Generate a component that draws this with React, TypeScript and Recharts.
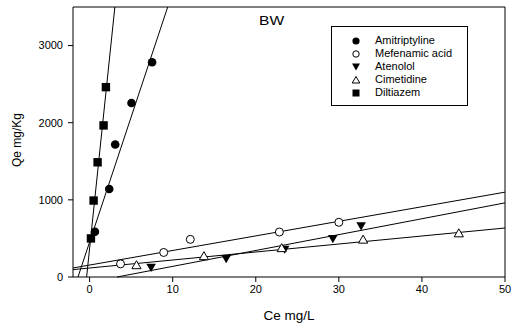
import {
  ScatterChart,
  Scatter,
  XAxis,
  YAxis,
  ReferenceLine,
  Legend,
} from "recharts";

const FONT = "'Liberation Sans', Arial, sans-serif";

// measured points, Ce (mg/L) vs Qe (mg/Kg)
const amitriptylineCe = [0.64, 2.36, 3.08, 5.04, 7.52];
const amitriptylineQe = [587, 1140, 1717, 2256, 2783];
const mefenamicCe = [3.72, 8.92, 12.12, 22.84, 30.0];
const mefenamicQe = [170, 318, 488, 583, 709];
const atenololCe = [7.4, 16.44, 23.48, 29.28, 32.68];
const atenololQe = [122, 235, 357, 496, 661];
const cimetidineCe = [5.64, 13.76, 23.12, 32.92, 44.44];
const cimetidineQe = [157, 274, 378, 488, 570];
const diltiazemCe = [0.16, 0.48, 0.96, 1.68, 1.96];
const diltiazemQe = [500, 991, 1487, 1965, 2461];

// fitted lines: [Ce start, Qe start, Ce end, Qe end]
const amitriptylineFit = [-1.4, 0, 9.4, 3500];
const mefenamicFit = [-2, 117, 50, 1100];
const atenololFit = [3.3, 0, 50, 961];
const cimetidineFit = [-2, 96, 50, 635];
const diltiazemFit = [-0.36, 0, 3.04, 3500];

const xTicks = [0, 10, 20, 30, 40, 50];
const yTicks = [0, 1000, 2000, 3000];
const seriesNames = [
  "Amitriptyline",
  "Mefenamic acid",
  "Atenolol",
  "Cimetidine",
  "Diltiazem",
];

const toPoints = (xs: number[], ys: number[]) =>
  xs.map((x, i) => ({ x, y: ys[i] }));

const FilledCircle = (p: any) => (
  <circle cx={p.cx} cy={p.cy} r={4.3} fill="#000" />
);
const OpenCircle = (p: any) => (
  <circle cx={p.cx} cy={p.cy} r={4} fill="#fff" stroke="#000" strokeWidth={1} />
);
const DownTriangle = (p: any) => (
  <polygon
    points={`${p.cx - 4.8},${p.cy - 3.8} ${p.cx + 4.8},${p.cy - 3.8} ${p.cx},${p.cy + 4.4}`}
    fill="#000"
  />
);
const UpTriangle = (p: any) => (
  <polygon
    points={`${p.cx - 4.6},${p.cy + 3.8} ${p.cx + 4.6},${p.cy + 3.8} ${p.cx},${p.cy - 4.2}`}
    fill="#fff"
    stroke="#000"
    strokeWidth={1}
  />
);
const Square = (p: any) => (
  <rect x={p.cx - 4.2} y={p.cy - 4.2} width={8.4} height={8.4} fill="#000" />
);

const legendMarks = [
  <circle cx={5} cy={5} r={3.6} fill="#000" />,
  <circle cx={5} cy={5} r={3.2} fill="#fff" stroke="#000" />,
  <polygon points="1,1.5 9,1.5 5,8.5" fill="#000" />,
  <polygon points="1.2,8 8.8,8 5,1.5" fill="#fff" stroke="#000" />,
  <rect x={1.5} y={1.5} width={7} height={7} fill="#000" />,
];

const LegendBox = () => (
  <div
    style={{
      border: "1px solid #000",
      background: "#fff",
      boxSizing: "border-box",
      width: 137,
      height: 80,
      padding: "7px 0 0 19px",
      fontFamily: FONT,
      fontSize: 11,
      lineHeight: "13px",
      color: "#000",
    }}
  >
    {seriesNames.map((name, i) => (
      <div key={name} style={{ display: "flex", alignItems: "center" }}>
        <svg width={10} height={10} style={{ marginRight: 14 }}>
          {legendMarks[i]}
        </svg>
        {name}
      </div>
    ))}
  </div>
);

export default function App() {
  const fits = [
    amitriptylineFit,
    mefenamicFit,
    atenololFit,
    cimetidineFit,
    diltiazemFit,
  ];

  return (
    <div
      style={{
        position: "absolute",
        left: 0,
        top: 0,
        width: 514,
        height: 331,
        background: "#fff",
      }}
    >
      <ScatterChart
        width={514}
        height={331}
        margin={{ top: 7, right: 9, left: 0, bottom: 0 }}
      >
        <XAxis
          dataKey="x"
          type="number"
          domain={[-2, 50]}
          ticks={xTicks}
          height={54}
          tickSize={5}
          tickMargin={3}
          stroke="#000"
          tick={{ fill: "#000", fontSize: 11, fontFamily: FONT }}
          label={{
            value: "Ce mg/L",
            position: "insideBottom",
            offset: 11,
            style: { fill: "#000", fontSize: 13.5, fontFamily: FONT },
          }}
        />
        <YAxis
          dataKey="y"
          type="number"
          domain={[0, 3500]}
          ticks={yTicks}
          width={73}
          tickSize={5}
          tickMargin={5}
          stroke="#000"
          tick={{ fill: "#000", fontSize: 11, fontFamily: FONT }}
          label={{
            value: "Qe mg/Kg",
            angle: -90,
            position: "center",
            dx: -19.5,
            dy: -2,
            style: { fill: "#000", fontSize: 12, fontFamily: FONT },
          }}
        />
        <ReferenceLine y={3500} stroke="#000" />
        <ReferenceLine x={50} stroke="#000" />
        {fits.map((f, i) => (
          <ReferenceLine
            key={i}
            segment={[
              { x: f[0], y: f[1] },
              { x: f[2], y: f[3] },
            ]}
            stroke="#000"
            strokeWidth={1}
          />
        ))}
        <Legend
          layout="vertical"
          align="center"
          verticalAlign="middle"
          wrapperStyle={{ left: 331, top: 26, width: 137, height: 80 }}
          content={() => <LegendBox />}
        />
        <Scatter
          name="Amitriptyline"
          data={toPoints(amitriptylineCe, amitriptylineQe)}
          shape={FilledCircle}
          isAnimationActive={false}
        />
        <Scatter
          name="Mefenamic acid"
          data={toPoints(mefenamicCe, mefenamicQe)}
          shape={OpenCircle}
          isAnimationActive={false}
        />
        <Scatter
          name="Atenolol"
          data={toPoints(atenololCe, atenololQe)}
          shape={DownTriangle}
          isAnimationActive={false}
        />
        <Scatter
          name="Cimetidine"
          data={toPoints(cimetidineCe, cimetidineQe)}
          shape={UpTriangle}
          isAnimationActive={false}
        />
        <Scatter
          name="Diltiazem"
          data={toPoints(diltiazemCe, diltiazemQe)}
          shape={Square}
          isAnimationActive={false}
        />
      </ScatterChart>
      <div
        style={{
          position: "absolute",
          left: 259,
          top: 13,
          fontFamily: FONT,
          fontSize: 13,
          lineHeight: "15px",
          color: "#000",
          transform: "scaleX(1.2)",
          transformOrigin: "left top",
        }}
      >
        BW
      </div>
    </div>
  );
}
